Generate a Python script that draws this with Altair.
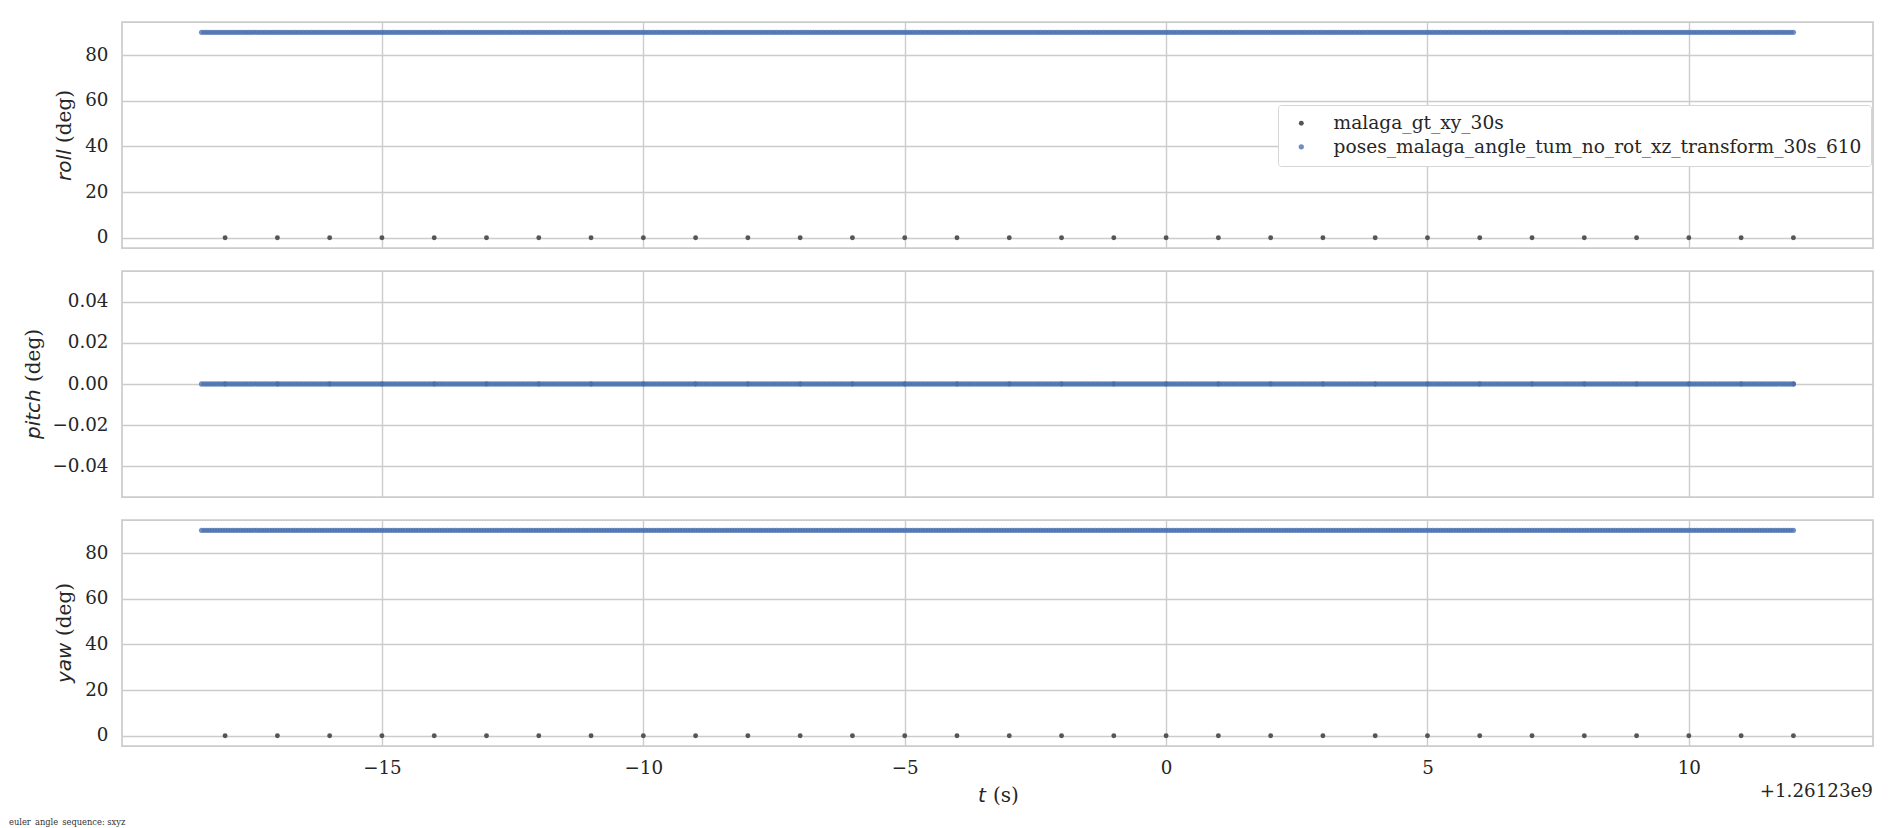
import altair as alt
import pandas as pd

SERIF = "DejaVu Serif"
SANS = "DejaVu Sans"
INK = "#262626"
TICK_FS = 18.3

gt_name = "malaga_gt_xy_30s"
est_name = "poses_malaga_angle_tum_no_rot_xz_transform_30s_610"

# ground-truth samples (1 Hz)
gt_t = [-18, -17, -16, -15, -14, -13, -12, -11, -10, -9, -8, -7, -6, -5, -4, -3,
        -2, -1, 0, 1, 2, 3, 4, 5, 6, 7, 8, 9, 10, 11, 12]
gt_roll = [0.0] * len(gt_t)
gt_pitch = [0.0] * len(gt_t)
gt_yaw = [0.0] * len(gt_t)

# estimate samples (dense, 20 Hz, 610 poses)
est_t = [round(-18.45 + 0.05 * i, 2) for i in range(610)]
est_roll = [90.0] * len(est_t)
est_pitch = [0.0] * len(est_t)
est_yaw = [90.0] * len(est_t)

x_ticks = [-15, -10, -5, 0, 5, 10]
angle_ticks = [0, 20, 40, 60, 80]
pitch_ticks = [-0.04, -0.02, 0.0, 0.02, 0.04]

X_DOMAIN = [-19.9725, 13.5225]
ANGLE_DOMAIN = [-4.5, 94.5]
PITCH_DOMAIN = [-0.055, 0.055]

W, H = 1751, 226


def txt(s, x, y, font=SERIF, size=20, italic=False, angle=0, align="left",
        baseline="middle", color=INK):
    kw = dict(font=font, fontSize=size, align=align, baseline=baseline, color=color)
    if italic:
        kw["fontStyle"] = "italic"
    if angle:
        kw["angle"] = angle
    return alt.Chart(pd.DataFrame({"s": [s]})).mark_text(**kw).encode(
        text="s:N", x=alt.value(x), y=alt.value(y))


def panel(gt_vals, est_vals, ydomain, yticks, yfmt, name, name_y, deg_y, title_x,
          bottom=False, legend=None):
    df = pd.DataFrame({
        "t": gt_t + est_t,
        "v": gt_vals + est_vals,
        "s": [gt_name] * len(gt_t) + [est_name] * len(est_t),
        "o": list(range(len(gt_t) + len(est_t))),
    })
    x_axis = alt.Axis(values=x_ticks, grid=True, labels=bottom, ticks=False,
                      domain=False, title=None, format="d", labelFont=SERIF,
                      labelFontSize=TICK_FS, labelColor=INK, labelPadding=13)
    y_axis = alt.Axis(values=yticks, format=yfmt, grid=True, ticks=False,
                      domain=False, title=None, labelFont=SERIF, labelFontSize=TICK_FS,
                      labelColor=INK, labelPadding=14)
    pts = alt.Chart(df).mark_circle().encode(
        x=alt.X("t:Q", scale=alt.Scale(domain=X_DOMAIN, nice=False, zero=False), axis=x_axis),
        y=alt.Y("v:Q", scale=alt.Scale(domain=ydomain, nice=False, zero=False), axis=y_axis),
        color=alt.Color("s:N", scale=alt.Scale(domain=[gt_name, est_name],
                                                range=["#555555", "#4C72B0"]),
                        legend=legend),
        opacity=alt.Opacity("s:N", scale=alt.Scale(domain=[gt_name, est_name],
                                                    range=[1.0, 0.8]), legend=None),
        size=alt.Size("s:N", scale=alt.Scale(domain=[gt_name, est_name],
                                              range=[24, 28]), legend=None),
        order=alt.Order("o:Q"),
    )
    layers = [pts,
              txt(name, title_x, name_y, font=SANS, italic=True, angle=270),
              txt("(deg)", title_x, deg_y, angle=270)]
    if bottom:
        layers += [
            txt("t", 856, 276, font=SANS, italic=True),
            txt("(s)", 871, 276),
            txt("+1.26123e9", W, 272, size=TICK_FS, align="right"),
            txt("euler_angle_sequence: sxyz", -113, 302.7, size=8.3, color="#333333"),
        ]
    return alt.layer(*layers).properties(width=W, height=H)


legend = alt.Legend(orient="none", legendX=1156, legendY=83, title=None,
                    labelFont=SERIF, labelFontSize=18.6, labelColor=INK,
                    fillColor="white", strokeColor="#d6d6d6", cornerRadius=3,
                    padding=9, symbolType="circle", symbolSize=22, rowPadding=4.5,
                    labelOffset=23, symbolOffset=5, labelLimit=1000,
                    symbolStrokeWidth=0)

p1 = panel(gt_roll, est_roll, ANGLE_DOMAIN, angle_ticks, "d", "roll", 159, 121, -57,
           legend=legend)
p2 = panel(gt_pitch, est_pitch, PITCH_DOMAIN, pitch_ticks, ".2f", "pitch", 168, 111, -88)
p3 = panel(gt_yaw, est_yaw, ANGLE_DOMAIN, angle_ticks, "d", "yaw", 163, 116, -57,
           bottom=True)

chart = (
    alt.vconcat(p1, p2, p3, spacing=21)
    .resolve_scale(color="independent", opacity="independent", size="independent")
    .resolve_legend(color="independent")
    .properties(padding={"left": 0, "top": 13, "right": 5, "bottom": 0},
                background="white")
    .configure_view(stroke="#cccccc", strokeWidth=1.75)
    .configure_axis(gridColor="#cccccc", gridWidth=1.4)
)

chart.save("out.html", embed_options={"renderer": "svg", "actions": False})
